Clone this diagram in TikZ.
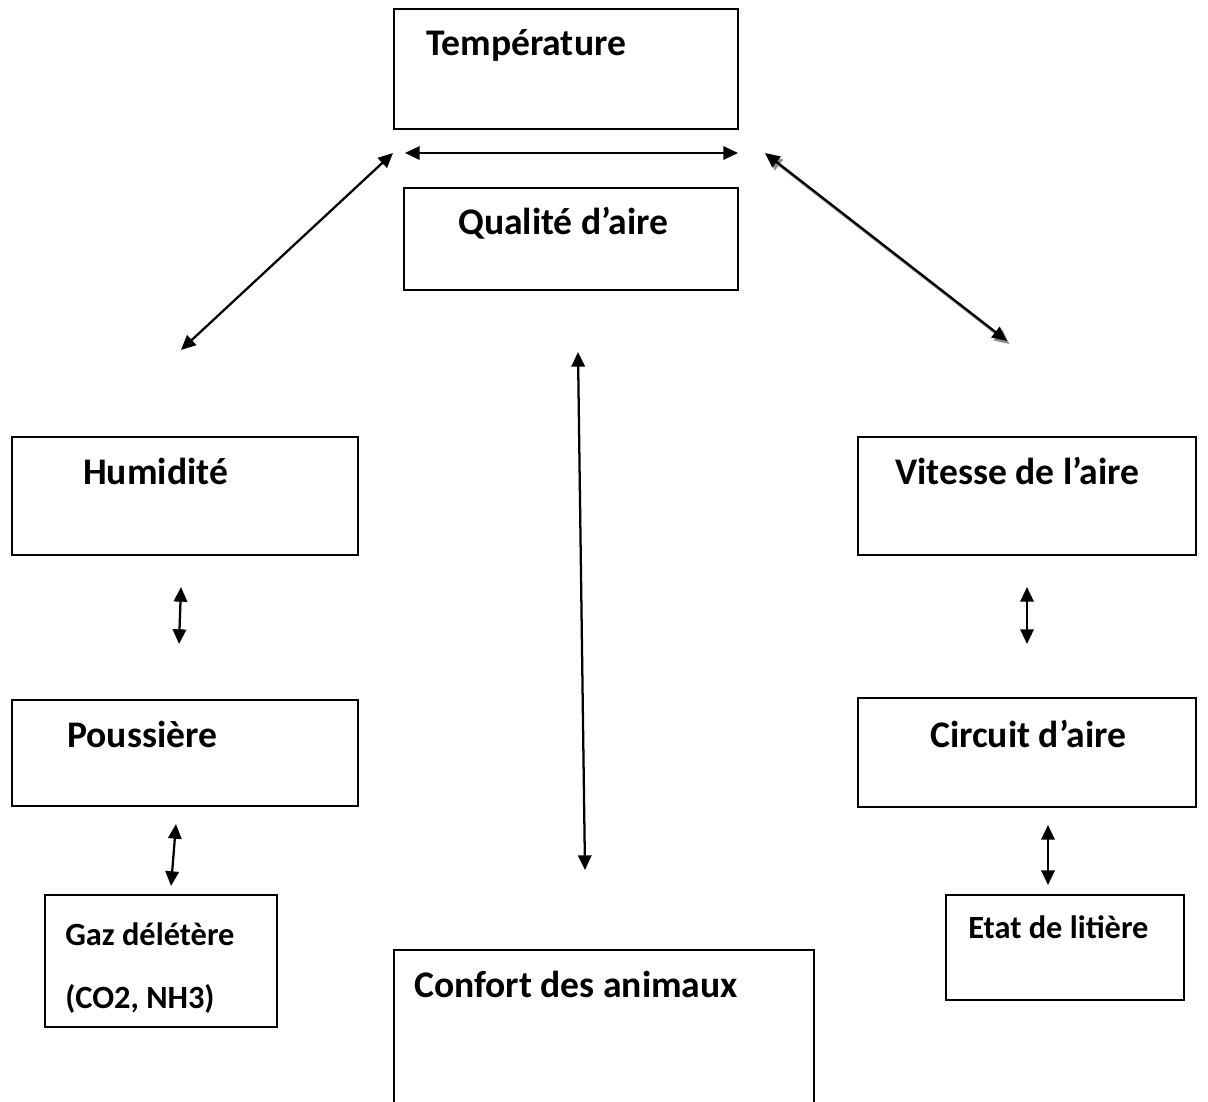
\documentclass[tikz,border=0pt]{standalone}
\usepackage{fontspec}
\setmainfont{Carlito}
\usetikzlibrary{arrows.meta,fit}

\tikzset{
  box/.style={draw=black, line width=1.5pt, inner sep=0pt, fill=white},
  bigtext/.style={anchor=base west, inner sep=0pt, font=\fontsize{28.2}{34}\selectfont\bfseries},
  smalltext/.style={anchor=base west, inner sep=0pt, font=\fontsize{24.3}{29}\selectfont\bfseries},
  link/.style={line width=1.7pt, {Triangle[length=11pt,width=10pt]}-{Triangle[length=11pt,width=10pt]}},
  linkshadow/.style={link, draw=black!45, fill=black!45}
}

\begin{document}
\begin{tikzpicture}[x=0.75pt, y=-0.75pt]
  \useasboundingbox (0,0) rectangle (1208,1102);

  % boxes
  \node[box, fit={(394,9) (738,129)}] (temp) {};
  \node[box, fit={(404,188) (738,290)}] (qual) {};
  \node[box, fit={(12,437) (358,555)}] (hum) {};
  \node[box, fit={(858,437) (1196,555)}] (vit) {};
  \node[box, fit={(12,700) (358,806)}] (pous) {};
  \node[box, fit={(858,698) (1196,807)}] (circ) {};
  \node[box, fit={(45,895) (277,1027)}] (gaz) {};
  \node[box, fit={(946,895) (1184,1000)}] (etat) {};
  \node[box, fit={(394,950) (814,1106)}] (conf) {};

  % labels
  \node[bigtext] (ttemp) at (426,56) {Température};
  \node[bigtext] (tqual) at (458,235) {Qualité d’aire};
  \node[bigtext] (thum) at (83,484) {Humidité};
  \node[bigtext] (tvit) at (895,484) {Vitesse de l’aire};
  \node[bigtext] (tpous) at (67,747) {Poussière};
  \node[bigtext] (tcirc) at (930,747) {Circuit d’aire};
  \node[smalltext] (tgaz1) at (65,945) {Gaz délétère};
  \node[smalltext] (tgaz2) at (65,1008) {(CO2, NH3)};
  \node[smalltext] (tetat) at (968,938) {Etat de litière};
  \node[bigtext] (tconf) at (414,997) {Confort des animaux};

  % arrow end points
  \coordinate (hA) at (405,153);   \coordinate (hB) at (738,153);
  \coordinate (lA) at (393,153);   \coordinate (lB) at (181,350);
  \coordinate (rA) at (765,153);   \coordinate (rB) at (1007,341);
  \coordinate (cA) at (578,352);   \coordinate (cB) at (585,870);
  \coordinate (hpA) at (181,587);  \coordinate (hpB) at (179,644);
  \coordinate (pgA) at (176,824);  \coordinate (pgB) at (171,886);
  \coordinate (vcA) at (1027,587); \coordinate (vcB) at (1027,644);
  \coordinate (ceA) at (1048,825); \coordinate (ceB) at (1048,885);

  % connectors
  \draw[link] (hA) -- (hB);
  \draw[link] (lA) -- (lB);
  \draw[linkshadow] ([shift={(2.5,3)}]rA) -- ([shift={(2.5,3)}]rB);
  \draw[link] (rA) -- (rB);
  \draw[link] (cA) -- (cB);
  \draw[link] (hpA) -- (hpB);
  \draw[link] (pgA) -- (pgB);
  \draw[link] (vcA) -- (vcB);
  \draw[link] (ceA) -- (ceB);
\end{tikzpicture}
\end{document}
